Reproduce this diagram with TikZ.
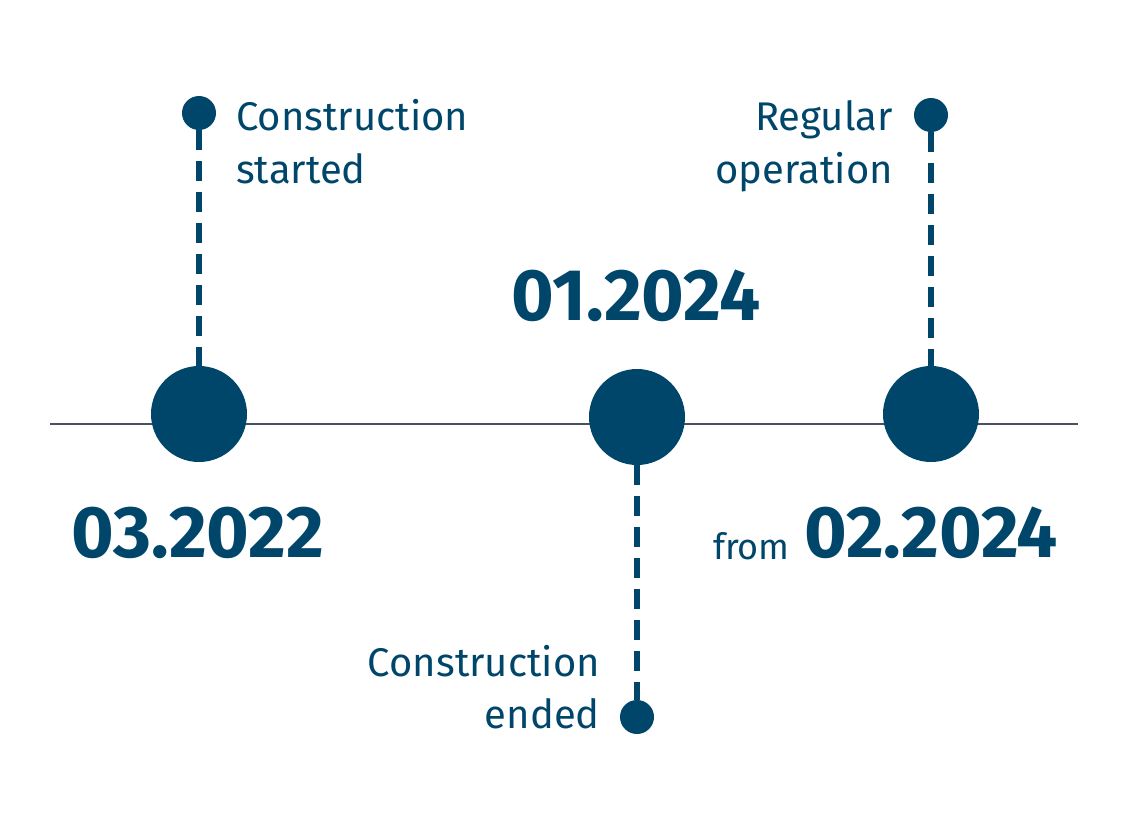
\documentclass[tikz,border=0pt]{standalone}
\usepackage{fontspec}
\setmainfont{Fira Sans}
\usetikzlibrary{positioning}
\definecolor{petrol}{HTML}{00466A}
\definecolor{axisgray}{HTML}{4B4F5E}

\begin{document}
\begin{tikzpicture}[x=1pt, y=-1pt,
  milestone/.style={circle, fill=petrol, minimum size=96pt, inner sep=0pt},
  pin/.style={circle, fill=petrol, minimum size=34pt, inner sep=0pt},
  stem/.style={draw=petrol, line width=6pt, dash pattern=on 20pt off 11pt},
  evtext/.style={text=petrol, inner sep=0pt, font=\fontsize{40}{53}\selectfont},
  datetext/.style={text=petrol, inner sep=0pt, anchor=base,
                   font=\fontsize{73}{75}\selectfont\bfseries},
]
\useasboundingbox (0,0) rectangle (1125,831);

% Time axis
\coordinate (axl) at (50,424);
\coordinate (axr) at (1078,424);
\draw[axisgray, line width=2.5pt] (axl) -- (axr);

% Milestones
\node[milestone] (m1) at (199,414) {};
\node[milestone] (m2) at (637,417) {};
\node[milestone] (m3) at (931,414) {};

% Pins
\node[pin] (p1) at (199,113) {};
\node[pin] (p2) at (637,717) {};
\node[pin] (p3) at (931,115) {};

% Stems
\draw[stem] (p1.south) -- (m1.north);
\draw[stem] (m2.south) -- (p2.north);
\draw[stem] (p3.south) -- (m3.north);

% Events
\node[evtext, anchor=base west] (e1a) at (236,130) {Construction};
\node[evtext, anchor=base west] (e1b) at (236,183) {started};
\node[evtext, anchor=base east] (e3a) at (893,130) {Regular};
\node[evtext, anchor=base east] (e3b) at (893,183) {operation};
\node[evtext, anchor=base east] (e2a) at (600,676) {Construction};
\node[evtext, anchor=base east] (e2b) at (600,728) {ended};

% Dates
\node[datetext] (d1) at (198,557) {03.2022};
\node[datetext] (d2) at (636,320) {01.2024};
\node[datetext] (d3) at (931,557) {02.2024};
\node[evtext, anchor=base east, font=\fontsize{36}{40}\selectfont] (from) at (790,559) {from};

\end{tikzpicture}
\end{document}
